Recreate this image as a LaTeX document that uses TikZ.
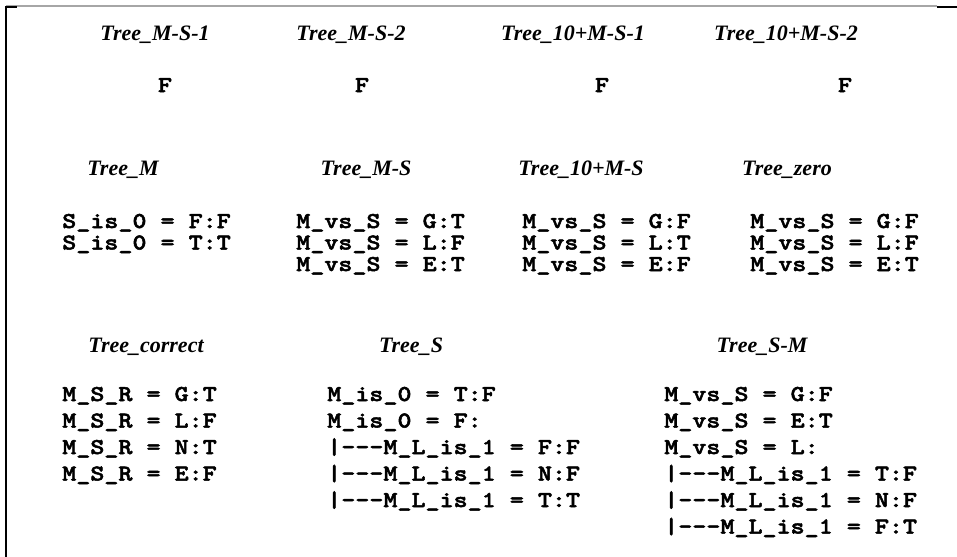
\documentclass[tikz,border=0pt]{standalone}
\usepackage{fontspec}
\newfontfamily\codefont{lmmonolt10-bold.otf}[FakeStretch=1.18, FakeBold=2.2]
\newfontfamily\titlefont{Liberation Serif}
\newcommand\dsh{-\kern0pt-\kern0pt-}
\begin{document}
\begin{tikzpicture}[x=0.75pt,y=-0.75pt,
  code/.style={font=\codefont\fontsize{17}{20}\selectfont, inner sep=0pt, anchor=base west},
  fval/.style={font=\codefont\fontsize{17}{20}\selectfont, inner sep=0pt, anchor=base},
  ttl/.style={font=\titlefont\bfseries\itshape\fontsize{16.5}{20}\selectfont, inner sep=0pt, anchor=base}]
\useasboundingbox (0,0) rectangle (957,557);
% frame
\coordinate (fl1) at (6,6);
\coordinate (fl2) at (6,557);
\coordinate (ft2) at (937,6);
\coordinate (fr1) at (937,7);
\coordinate (fr2) at (957,7);
\coordinate (fc1) at (6,7);
\coordinate (fc2) at (17,7);
\draw[line width=1.9pt] (fl1) -- (fl2);
\draw[gray!70, line width=0.8pt] (fl1) -- (ft2);
\draw[line width=1.6pt] (fr1) -- (fr2);
\draw[line width=1.5pt] (fc1) -- (fc2);
% row 1
\node[ttl] (t1) at (155,40) {Tree\_M-S-1};
\node[ttl] (t2) at (351,40) {Tree\_M-S-2};
\node[ttl] (t3) at (573,40) {Tree\_10+M-S-1};
\node[ttl] (t4) at (786,40) {Tree\_10+M-S-2};
\node[fval] (f1) at (165,92) {F};
\node[fval] (f2) at (362,92) {F};
\node[fval] (f3) at (602,92) {F};
\node[fval] (f4) at (845,92) {F};
% row 2
\node[ttl] (t5) at (123,175) {Tree\_M};
\node[ttl] (t6) at (366,175) {Tree\_M-S};
\node[ttl] (t7) at (581,175) {Tree\_10+M-S};
\node[ttl] (t8) at (787,175) {Tree\_zero};
\node[code] (a1) at (62,228) {S\_is\_0 = F:F};
\node[code] (a2) at (62,249.5) {S\_is\_0 = T:T};
\node[code] (b1) at (296,228) {M\_vs\_S = G:T};
\node[code] (b2) at (296,249.5) {M\_vs\_S = L:F};
\node[code] (b3) at (296,271) {M\_vs\_S = E:T};
\node[code] (c1) at (522,228) {M\_vs\_S = G:F};
\node[code] (c2) at (522,249.5) {M\_vs\_S = L:T};
\node[code] (c3) at (522,271) {M\_vs\_S = E:F};
\node[code] (d1) at (750,228) {M\_vs\_S = G:F};
\node[code] (d2) at (750,249.5) {M\_vs\_S = L:F};
\node[code] (d3) at (750,271) {M\_vs\_S = E:T};
% row 3
\node[ttl] (t9) at (146,352) {Tree\_correct};
\node[ttl] (t10) at (411,352) {Tree\_S};
\node[ttl] (t11) at (762,352) {Tree\_S-M};
\node[code] (e1) at (62,401) {M\_S\_R = G:T};
\node[code] (e2) at (62,427.5) {M\_S\_R = L:F};
\node[code] (e3) at (62,454) {M\_S\_R = N:T};
\node[code] (e4) at (62,480.5) {M\_S\_R = E:F};
\node[code] (g1) at (327,401) {M\_is\_0 = T:F};
\node[code] (g2) at (327,427.5) {M\_is\_0 = F:};
\node[code] (g3) at (327,454) {|\dsh M\_L\_is\_1 = F:F};
\node[code] (g4) at (327,480.5) {|\dsh M\_L\_is\_1 = N:F};
\node[code] (g5) at (327,507) {|\dsh M\_L\_is\_1 = T:T};
\node[code] (h1) at (664,401) {M\_vs\_S = G:F};
\node[code] (h2) at (664,427.5) {M\_vs\_S = E:T};
\node[code] (h3) at (664,454) {M\_vs\_S = L:};
\node[code] (h4) at (664,480.5) {|\dsh M\_L\_is\_1 = T:F};
\node[code] (h5) at (664,507) {|\dsh M\_L\_is\_1 = N:F};
\node[code] (h6) at (664,533.5) {|\dsh M\_L\_is\_1 = F:T};
\end{tikzpicture}
\end{document}
